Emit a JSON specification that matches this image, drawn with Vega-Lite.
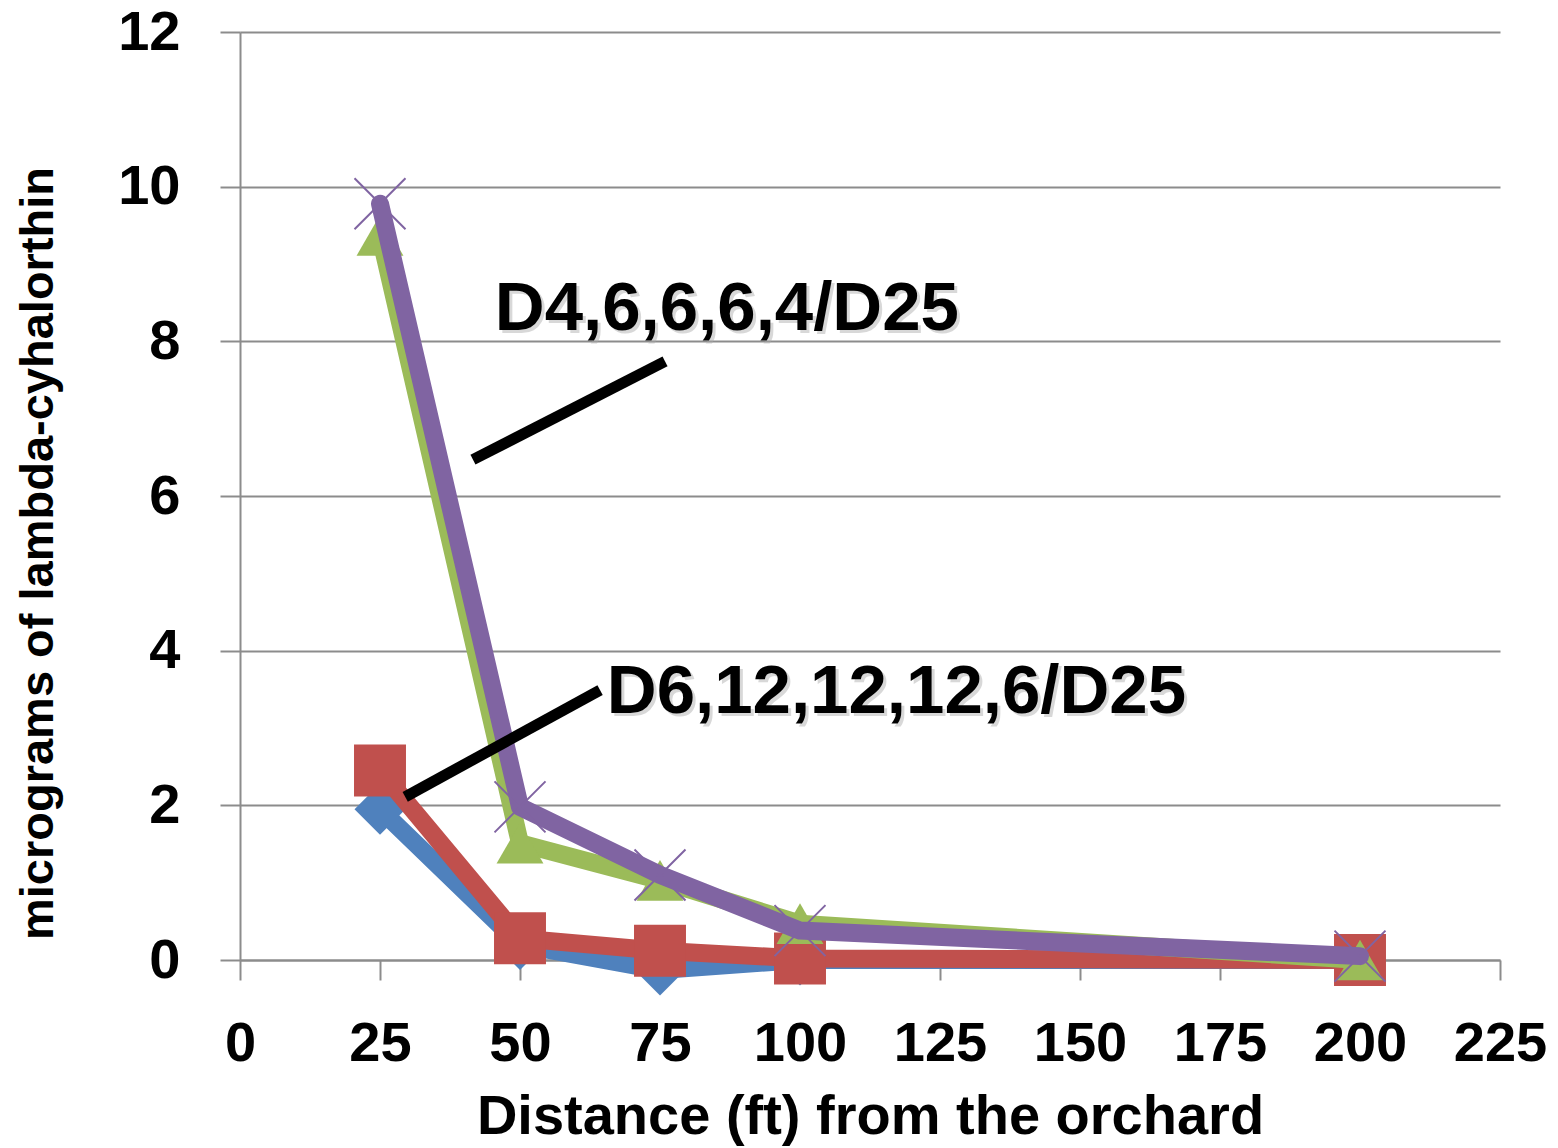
{
  "$schema": "https://vega.github.io/schema/vega-lite/v6.json",
  "width": 1260,
  "height": 928,
  "autosize": {"type": "none"},
  "padding": {"left": 240, "top": 32, "right": 58, "bottom": 188},
  "background": "white",
  "config": {"view": {"stroke": null}},
  "datasets": {
    "series": [
      {"series": "A", "distance": 25, "value": 1.95},
      {"series": "A", "distance": 50, "value": 0.2},
      {"series": "A", "distance": 75, "value": -0.13},
      {"series": "A", "distance": 100, "value": 0.0},
      {"series": "A", "distance": 200, "value": 0.0},
      {"series": "B", "distance": 25, "value": 2.45},
      {"series": "B", "distance": 50, "value": 0.28},
      {"series": "B", "distance": 75, "value": 0.12},
      {"series": "B", "distance": 100, "value": 0.02},
      {"series": "B", "distance": 200, "value": 0.0},
      {"series": "C", "distance": 25, "value": 9.37},
      {"series": "C", "distance": 50, "value": 1.51},
      {"series": "C", "distance": 75, "value": 1.03},
      {"series": "C", "distance": 100, "value": 0.47},
      {"series": "C", "distance": 200, "value": 0.0},
      {"series": "D", "distance": 25, "value": 9.78},
      {"series": "D", "distance": 50, "value": 1.98},
      {"series": "D", "distance": 75, "value": 1.1},
      {"series": "D", "distance": 100, "value": 0.38},
      {"series": "D", "distance": 200, "value": 0.05}
    ],
    "leaders": [
      {"x": 41.6, "y": 6.47, "x2": 75.9, "y2": 7.74},
      {"x": 29.5, "y": 2.11, "x2": 64.3, "y2": 3.49}
    ],
    "labels": [
      {"x": 45.5, "y": 8.15, "label": "D4,6,6,6,4/D25"},
      {"x": 65.5, "y": 3.19, "label": "D6,12,12,12,6/D25"}
    ]
  },
  "encoding": {
    "x": {
      "field": "distance", "type": "quantitative",
      "scale": {"domain": [0, 225], "nice": false, "zero": false},
      "axis": {
        "title": "Distance (ft) from the orchard",
        "values": [0, 25, 50, 75, 100, 125, 150, 175, 200, 225],
        "grid": false,
        "domainColor": "#8c8c8c", "domainWidth": 2,
        "tickColor": "#8c8c8c", "tickWidth": 2, "tickSize": 20,
        "labelFont": "Liberation Sans", "labelFontWeight": "bold", "labelFontSize": 56,
        "labelColor": "black", "labelPadding": 36, "labelFlush": false, "labelOverlap": false,
        "titleFont": "Liberation Sans", "titleFontWeight": "bold", "titleFontSize": 56,
        "titleColor": "black", "titleBaseline": "alphabetic", "titleY": 173
      }
    },
    "y": {
      "field": "value", "type": "quantitative",
      "scale": {"domain": [0, 12], "nice": false},
      "axis": {
        "title": "micrograms of lambda-cyhalorthin",
        "values": [0, 2, 4, 6, 8, 10, 12],
        "grid": true, "gridColor": "#8c8c8c", "gridWidth": 2,
        "domainColor": "#8c8c8c", "domainWidth": 2,
        "tickColor": "#8c8c8c", "tickWidth": 2, "tickSize": 20,
        "labelFont": "Liberation Sans", "labelFontWeight": "bold", "labelFontSize": 56,
        "labelColor": "black", "labelPadding": 40, "labelFlush": false,
        "titleFont": "Liberation Sans", "titleFontWeight": "bold", "titleFontSize": 47,
        "titleColor": "black", "titleAngle": -90, "titleX": -202, "titleY": 521,
        "titleBaseline": "middle", "titleAlign": "center"
      }
    }
  },
  "layer": [
    {
      "data": {"name": "series"},
      "transform": [{"filter": "datum.series === 'A'"}],
      "mark": {"type": "line", "color": "#4F81BD", "strokeWidth": 18, "strokeCap": "round", "strokeJoin": "round"}
    },
    {
      "data": {"name": "series"},
      "transform": [{"filter": "datum.series === 'A'"}],
      "mark": {"type": "point", "shape": "diamond", "filled": true, "color": "#4F81BD", "size": 2600, "opacity": 1}
    },
    {
      "data": {"name": "series"},
      "transform": [{"filter": "datum.series === 'B'"}],
      "mark": {"type": "line", "color": "#C0504D", "strokeWidth": 18, "strokeCap": "round", "strokeJoin": "round"}
    },
    {
      "data": {"name": "series"},
      "transform": [{"filter": "datum.series === 'B'"}],
      "mark": {"type": "point", "shape": "square", "filled": true, "color": "#C0504D", "size": 2700, "opacity": 1}
    },
    {
      "data": {"name": "series"},
      "transform": [{"filter": "datum.series === 'C'"}],
      "mark": {"type": "line", "color": "#9BBB59", "strokeWidth": 18, "strokeCap": "round", "strokeJoin": "round"}
    },
    {
      "data": {"name": "series"},
      "transform": [{"filter": "datum.series === 'C'"}],
      "mark": {"type": "point", "shape": "triangle-up", "filled": true, "color": "#9BBB59", "size": 2200, "opacity": 1}
    },
    {
      "data": {"name": "series"},
      "transform": [{"filter": "datum.series === 'D'"}],
      "mark": {"type": "line", "color": "#8064A2", "strokeWidth": 18, "strokeCap": "round", "strokeJoin": "round"}
    },
    {
      "data": {"name": "series"},
      "transform": [{"filter": "datum.series === 'D'"}],
      "mark": {"type": "point", "shape": "M-1,-1L1,1M-1,1L1,-1", "filled": false, "color": "#8064A2", "strokeWidth": 2, "size": 2600, "opacity": 1}
    },
    {
      "data": {"name": "leaders"},
      "mark": {"type": "rule", "color": "black", "strokeWidth": 11, "strokeCap": "butt"},
      "encoding": {
        "x": {"field": "x", "type": "quantitative"},
        "y": {"field": "y", "type": "quantitative"},
        "x2": {"field": "x2"},
        "y2": {"field": "y2"}
      }
    },
    {
      "data": {"name": "labels"},
      "mark": {"type": "text", "align": "left", "baseline": "alphabetic", "font": "Liberation Sans", "fontWeight": "bold", "fontSize": 69, "color": "#aaaaaa", "opacity": 0.45, "dx": 3, "dy": 3},
      "encoding": {
        "x": {"field": "x", "type": "quantitative"},
        "y": {"field": "y", "type": "quantitative"},
        "text": {"field": "label"}
      }
    },
    {
      "data": {"name": "labels"},
      "mark": {"type": "text", "align": "left", "baseline": "alphabetic", "font": "Liberation Sans", "fontWeight": "bold", "fontSize": 69, "color": "black"},
      "encoding": {
        "x": {"field": "x", "type": "quantitative"},
        "y": {"field": "y", "type": "quantitative"},
        "text": {"field": "label"}
      }
    }
  ]
}
